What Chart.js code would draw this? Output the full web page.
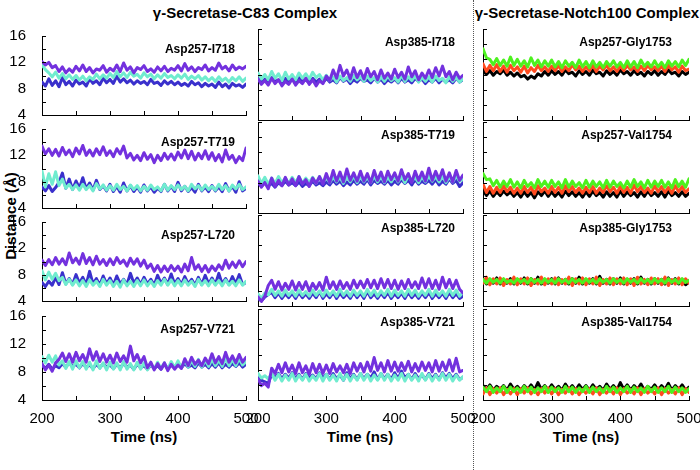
<!DOCTYPE html>
<html>
<head>
<meta charset="utf-8">
<script src="https://cdn.jsdelivr.net/npm/chart.js@4/dist/chart.umd.min.js"></script>
<style>
  body { margin: 0; background: #fff; width: 700px; height: 470px; position: relative; overflow: hidden;
         font-family: "Liberation Sans", Arial, sans-serif; }
  canvas { position: absolute; }
  .txt { position: absolute; font-weight: bold; white-space: nowrap; color: #000; font-size: 15px; line-height: 18px; }
  .divider { position: absolute; left: 473px; top: 0; height: 470px; border-left: 1px dotted #555; }
</style>
</head>
<body>
<div class="txt" style="left:245px;top:4px;transform:translateX(-50%)">γ-Secretase-C83 Complex</div>
<div class="txt" style="left:587px;top:4px;transform:translateX(-50%)">γ-Secretase-Notch100 Complex</div>
<div class="txt" style="left:11px;top:216px;transform:translate(-50%,-50%) rotate(-90deg)">Distance (Å)</div>
<div class="txt" style="left:144px;top:428px;transform:translateX(-50%)">Time (ns)</div>
<div class="txt" style="left:360px;top:428px;transform:translateX(-50%)">Time (ns)</div>
<div class="txt" style="left:586px;top:428px;transform:translateX(-50%)">Time (ns)</div>
<div class="divider"></div>

<script>
// sampling times (ns)
const timeNs = [
  200,205,210,215,220,225,230,235,240,245,
  250,255,260,265,270,275,280,285,290,295,
  300,305,310,315,320,325,330,335,340,345,
  350,355,360,365,370,375,380,385,390,395,
  400,405,410,415,420,425,430,435,440,445,
  450,455,460,465,470,475,480,485,490,495,
  500
];
const yTickValues = [4, 6, 8, 10, 12, 14, 16];
const xTickValues = [200, 250, 300, 350, 400, 450, 500];

// ---- γ-Secretase-C83: Asp257-I718
const a257_i718_purple = [
  12.1,11.6,12.0,11.2,11.5,10.6,11.3,10.4,11.0,10.5,
  11.4,10.7,11.6,10.6,11.2,10.4,11.0,10.8,11.5,10.5,
  11.1,10.7,11.6,10.6,11.9,10.8,11.3,10.4,11.2,10.9,
  11.5,10.6,11.0,10.5,11.3,10.7,11.4,10.6,11.1,10.8,
  11.5,10.7,11.8,10.8,11.3,10.6,11.2,10.9,11.6,10.7,
  11.2,10.8,11.9,11.0,11.4,10.7,11.6,10.9,11.3,11.0,
  11.4];
const a257_i718_blue = [
  9.0,8.4,9.5,8.5,9.2,8.3,9.7,8.6,9.1,8.4,
  9.3,8.7,9.0,8.4,9.5,8.8,9.2,8.6,9.6,8.9,
  9.4,8.8,9.9,9.0,9.5,8.9,9.3,8.7,9.2,8.8,
  9.1,8.6,9.4,8.8,9.0,8.5,9.2,8.7,9.1,8.6,
  9.0,8.5,8.8,8.4,9.1,8.6,8.9,8.3,8.8,8.4,
  8.7,8.2,9.0,8.3,8.7,8.1,8.8,8.4,8.6,8.2,
  8.7];
const a257_i718_cyan = [
  11.6,10.9,10.4,9.8,10.5,9.6,10.3,9.5,10.1,9.4,
  10.0,9.3,9.9,9.2,9.8,9.4,10.2,9.5,10.1,9.6,
  10.3,9.7,10.6,9.8,10.4,9.7,10.5,9.9,10.2,9.6,
  10.4,9.8,10.2,9.5,10.1,9.6,10.3,9.7,10.0,9.5,
  10.1,9.6,10.2,9.4,9.9,9.5,10.0,9.3,9.8,9.2,
  9.7,9.1,9.8,9.2,9.6,9.0,9.7,9.2,9.8,9.1,
  9.6];

// ---- Asp385-I718
const a385_i718_purple = [
  9.4,8.7,9.2,8.6,9.5,8.8,9.3,8.5,9.1,8.7,
  9.4,8.6,9.2,8.8,9.5,8.7,9.3,8.5,9.2,8.8,
  9.8,9.2,10.6,9.5,11.2,9.8,10.6,9.4,10.9,9.6,
  10.5,9.4,10.8,9.7,10.4,9.3,10.6,9.5,10.2,9.4,
  10.7,9.6,10.3,9.4,11.0,9.7,10.5,9.3,10.2,9.5,
  10.6,9.6,10.9,9.8,11.1,9.7,10.4,9.3,10.3,9.5,
  9.9];
const a385_i718_blue = [
  9.5,9.0,9.4,8.9,9.6,9.1,9.3,8.8,9.5,9.0,
  9.4,8.9,9.6,9.1,9.3,8.9,9.5,9.0,9.4,8.9,
  9.5,9.0,9.3,8.9,9.6,9.1,9.4,8.8,9.3,9.0,
  9.5,9.1,9.3,8.9,9.5,9.0,9.4,8.8,9.3,9.0,
  9.4,8.9,9.5,9.0,9.3,8.9,9.5,9.1,9.4,8.8,
  9.3,9.0,9.5,8.9,9.4,9.0,9.3,8.9,9.5,9.0,
  9.3];
const a385_i718_cyan = [
  10.2,9.4,10.0,9.3,10.4,9.5,10.1,9.2,10.3,9.4,
  10.0,9.3,10.2,9.5,10.1,9.4,10.3,9.6,10.0,9.3,
  9.9,9.2,9.7,9.0,9.8,9.2,9.6,9.1,9.9,9.3,
  9.7,9.1,9.8,9.2,9.6,9.0,9.7,9.1,9.8,9.2,
  9.6,9.0,9.9,9.1,9.7,9.2,9.8,9.0,9.6,9.1,
  9.7,9.0,9.8,9.2,9.5,8.9,9.7,9.1,9.6,9.0,
  9.4];

// ---- Asp257-T719
const a257_t719_purple = [
  13.4,12.2,13.0,12.0,12.9,11.9,13.2,12.1,12.8,11.8,
  13.1,12.2,13.5,12.0,12.8,11.9,13.0,12.1,13.3,12.0,
  12.7,11.8,13.0,12.2,13.4,11.6,12.3,11.3,12.0,11.2,
  12.4,11.4,12.1,10.9,12.0,11.2,12.3,11.4,12.2,11.3,
  12.5,11.6,12.8,11.5,12.6,11.3,12.3,11.5,12.7,11.4,
  12.4,11.2,12.1,11.0,12.8,11.4,12.0,10.9,11.8,11.2,
  13.1];
const a257_t719_blue = [
  7.2,6.6,7.4,6.5,7.1,7.9,9.3,7.0,8.4,6.8,
  8.1,7.0,8.6,6.9,7.8,6.7,8.2,6.8,7.4,6.6,
  7.6,6.5,7.3,6.4,7.8,6.6,7.4,6.5,7.2,6.4,
  7.5,6.6,7.2,6.4,7.0,6.5,7.6,6.6,7.3,6.5,
  7.9,6.6,7.3,6.5,7.1,6.4,7.6,6.6,7.2,6.5,
  7.4,6.6,7.2,6.5,7.7,6.6,7.3,6.4,8.0,6.6,
  7.0];
const a257_t719_cyan = [
  9.6,7.2,9.2,7.6,9.5,7.4,8.4,7.0,7.6,6.8,
  7.5,6.7,7.6,6.8,7.4,6.6,7.7,6.9,7.5,6.7,
  7.4,6.7,7.6,6.8,7.3,6.6,7.5,6.8,7.4,6.6,
  7.3,6.7,7.5,6.8,7.2,6.6,7.6,6.7,7.4,6.8,
  7.5,6.8,7.3,6.6,7.6,6.9,7.4,6.7,7.5,6.8,
  7.3,6.7,7.6,6.8,7.4,6.6,7.5,6.9,7.6,6.8,
  7.2];

// ---- Asp385-T719
const a385_t719_purple = [
  8.2,7.4,8.0,7.2,8.6,7.5,8.3,7.6,8.7,7.7,
  8.5,7.6,8.8,7.8,8.4,7.5,8.6,7.9,8.8,7.8,
  9.2,8.0,9.6,8.2,9.4,8.1,9.8,8.3,9.3,8.2,
  9.5,8.2,9.2,8.0,9.6,8.3,9.4,8.1,9.5,8.4,
  9.3,8.2,9.7,8.4,9.2,8.0,9.5,8.3,9.4,8.2,
  9.9,8.3,9.5,8.4,9.7,8.2,9.3,8.1,9.6,8.3,
  9.0];
const a385_t719_blue = [
  8.0,7.5,8.1,7.6,7.9,7.4,8.0,7.6,8.2,7.7,
  8.0,7.6,8.1,7.5,7.9,7.6,8.2,7.7,8.0,7.6,
  8.1,7.7,8.3,7.8,8.2,7.6,8.1,7.7,8.3,7.8,
  8.2,7.8,8.4,7.7,8.3,7.9,8.2,7.8,8.3,7.7,
  8.2,7.8,8.4,7.9,8.3,7.7,8.4,7.8,8.2,7.9,
  8.3,7.8,8.4,7.7,8.2,7.8,8.5,7.9,8.3,7.5,
  8.0];
const a385_t719_cyan = [
  8.9,7.9,8.7,7.8,8.6,7.9,8.8,8.0,8.6,7.9,
  8.7,8.0,8.8,7.9,8.6,8.0,8.7,7.9,8.8,8.0,
  8.7,8.0,8.8,8.1,8.7,7.9,8.8,8.1,8.9,8.0,
  8.8,8.1,8.7,8.0,8.9,8.1,8.8,8.0,8.7,8.1,
  8.9,8.1,8.8,8.0,8.9,8.2,8.7,8.0,8.8,8.1,
  8.9,8.2,8.8,8.1,8.9,8.0,8.8,8.1,8.9,8.2,
  8.5];

// ---- Asp257-L720
const a257_l720_purple = [
  10.2,9.4,10.3,9.5,10.6,9.6,10.4,9.5,11.3,9.8,
  10.5,9.6,11.2,9.7,10.6,9.5,10.8,9.6,10.3,9.4,
  10.4,9.5,10.6,9.7,10.2,9.3,10.5,9.6,10.4,9.3,
  10.2,9.0,9.6,8.5,9.4,8.4,9.3,8.5,9.4,8.6,
  9.3,8.4,9.6,8.6,10.6,8.8,9.5,8.5,9.4,8.4,
  9.3,8.6,9.5,8.8,10.2,9.0,9.9,9.1,10.1,9.2,
  10.0];
const a257_l720_blue = [
  6.8,6.2,7.0,6.4,7.6,6.5,8.3,6.6,7.4,6.5,
  8.0,6.7,7.6,6.5,8.5,6.6,7.4,6.4,7.8,6.6,
  7.5,6.4,7.8,6.6,7.3,6.5,8.2,6.7,7.5,6.5,
  7.6,6.6,7.3,6.4,7.9,6.7,7.5,6.5,8.1,6.6,
  7.4,6.5,7.7,6.6,7.3,6.4,7.6,6.5,7.9,6.6,
  7.5,6.5,8.2,6.6,7.4,6.5,7.7,6.6,8.0,6.5,
  6.8];
const a257_l720_cyan = [
  8.6,7.2,8.4,7.3,8.2,7.1,7.6,6.5,7.3,6.4,
  7.2,6.3,7.1,6.2,7.2,6.4,7.0,6.2,7.3,6.4,
  7.1,6.2,7.0,6.1,7.2,6.3,7.0,6.2,7.1,6.3,
  7.2,6.3,7.0,6.2,7.1,6.4,7.3,6.4,7.2,6.3,
  7.1,6.3,7.2,6.4,7.0,6.2,7.3,6.4,7.1,6.3,
  7.2,6.4,7.1,6.3,7.2,6.4,7.0,6.3,7.2,6.4,
  7.0];

// ---- Asp385-L720
const a385_l720_purple = [
  5.2,4.6,5.3,6.7,7.4,6.2,7.2,6.1,7.0,6.2,
  7.3,6.1,7.1,6.2,7.2,6.0,7.0,6.2,7.1,6.1,
  7.8,6.3,7.2,6.2,7.3,6.3,7.1,6.2,7.4,6.4,
  7.3,6.4,7.5,6.4,7.4,6.3,7.6,6.4,7.5,6.3,
  7.4,6.2,7.3,6.3,7.5,6.4,7.2,6.3,7.7,6.4,
  7.6,6.3,7.4,6.2,7.8,6.4,7.5,6.3,7.4,6.2,
  5.7];
const a385_l720_blue = [
  5.0,4.7,5.2,5.5,5.8,5.1,5.7,5.0,5.6,5.1,
  5.7,5.0,5.8,5.1,5.6,5.0,5.7,5.1,5.9,5.0,
  5.6,5.1,5.8,5.0,5.7,5.1,5.6,5.0,5.8,5.1,
  5.7,5.0,5.9,5.1,5.6,5.0,5.7,5.1,5.8,5.0,
  5.6,5.1,5.7,5.0,5.8,5.1,5.6,5.0,5.7,5.1,
  5.8,5.0,5.6,5.1,5.7,5.0,5.8,5.1,5.6,5.0,
  5.3];
const a385_l720_cyan = [
  5.6,5.0,5.7,5.5,6.2,5.4,6.0,5.3,6.1,5.4,
  6.0,5.3,6.1,5.4,5.9,5.3,6.1,5.4,6.0,5.3,
  6.1,5.4,6.0,5.3,6.2,5.4,6.0,5.3,6.1,5.4,
  6.0,5.3,6.2,5.4,6.1,5.3,6.0,5.4,6.2,5.3,
  6.1,5.4,6.0,5.3,6.2,5.4,6.1,5.3,6.0,5.4,
  6.2,5.3,6.1,5.4,6.0,5.3,6.2,5.4,6.1,5.3,
  5.8];

// ---- Asp257-V721
const a257_v721_purple = [
  9.2,8.3,9.0,8.1,9.3,9.8,10.7,9.5,10.6,9.4,
  10.8,9.6,10.5,9.4,11.3,9.7,10.9,9.5,10.6,9.4,
  10.4,9.3,10.7,9.5,10.3,9.4,11.7,9.6,10.5,9.3,
  10.2,8.6,9.4,8.3,9.2,8.4,9.3,8.2,9.1,8.4,
  9.0,8.5,9.9,8.9,10.1,9.1,9.7,8.9,10.0,9.2,
  10.6,9.3,10.2,9.2,10.8,9.4,10.3,9.3,10.5,9.4,
  10.1];
const a257_v721_blue = [
  9.0,8.5,9.1,8.4,8.9,8.6,9.2,8.7,9.3,8.8,
  9.1,8.6,9.2,8.7,9.0,8.5,9.1,8.6,9.2,8.7,
  9.0,8.5,9.1,8.6,9.2,8.7,9.0,8.4,9.1,8.6,
  8.9,8.4,9.0,8.5,8.9,8.4,9.1,8.5,9.0,8.6,
  9.1,8.6,9.2,8.7,9.0,8.6,9.3,8.7,9.1,8.6,
  9.2,8.7,9.3,8.6,9.1,8.7,9.2,8.8,9.3,8.7,
  9.1];
const a257_v721_cyan = [
  10.2,9.3,10.4,9.4,10.3,9.0,9.6,8.5,9.5,8.4,
  9.6,8.6,9.5,8.4,9.4,8.3,9.6,8.5,9.3,8.3,
  9.4,8.4,9.3,8.3,9.5,8.4,9.2,8.3,9.4,8.4,
  9.3,8.3,9.2,8.4,9.4,8.5,9.3,8.4,9.5,8.6,
  9.6,8.6,9.7,8.7,9.6,8.8,9.8,8.7,9.7,8.8,
  9.8,8.9,9.7,8.8,9.9,8.9,9.8,8.9,9.9,9.0,
  9.5];

// ---- Asp385-V721
const a385_v721_purple = [
  6.8,5.9,6.2,5.7,8.2,7.5,8.7,7.6,8.9,7.7,
  8.6,7.5,8.9,7.6,8.5,7.4,8.8,7.6,8.7,7.5,
  8.6,7.5,8.8,7.7,8.5,7.6,8.7,7.5,8.9,7.8,
  8.8,7.7,9.0,7.8,9.6,7.9,8.9,7.7,9.2,7.8,
  9.0,7.8,8.9,7.9,9.1,7.7,8.8,7.8,9.0,7.9,
  8.9,7.7,9.2,7.8,9.0,7.9,9.3,7.8,9.5,7.7,
  7.9];
const a385_v721_blue = [
  7.3,6.6,6.4,6.2,7.4,6.9,7.5,6.8,7.4,6.9,
  7.6,6.8,7.4,6.7,7.5,6.9,7.3,6.8,7.6,6.9,
  7.4,6.7,7.5,6.8,7.3,6.6,7.6,6.8,7.4,6.7,
  7.5,6.8,7.4,6.9,7.7,6.7,7.5,6.8,7.4,6.7,
  7.6,6.8,7.8,6.9,7.4,6.7,7.5,6.8,7.3,6.7,
  7.5,6.8,7.4,6.7,7.6,6.9,7.5,6.8,7.4,6.7,
  7.0];
const a385_v721_cyan = [
  7.5,6.9,7.2,6.8,7.5,6.6,7.4,6.5,7.3,6.6,
  7.5,6.5,7.3,6.6,7.4,6.5,7.2,6.6,7.5,6.5,
  7.4,6.6,7.3,6.5,7.5,6.6,7.4,6.5,7.3,6.6,
  7.5,6.6,7.4,6.5,7.3,6.6,7.5,6.6,7.4,6.5,
  7.3,6.6,7.5,6.5,7.4,6.6,7.3,6.5,7.5,6.6,
  7.4,6.5,7.3,6.6,7.5,6.6,7.4,6.5,7.3,6.6,
  7.1];

// ---- γ-Secretase-Notch100: Asp257-Gly1753
const a257_g1753_black = [
  10.6,10.0,10.5,9.9,10.4,10.1,10.6,9.9,10.3,9.8,
  10.2,9.7,9.9,9.4,9.8,9.5,10.1,9.8,10.4,9.9,
  10.5,10.0,10.4,9.9,10.6,10.1,10.3,9.8,10.5,10.0,
  10.4,9.9,10.6,10.1,10.3,9.8,10.5,10.0,10.4,9.9,
  10.6,10.1,10.4,9.9,10.5,10.0,10.3,9.8,10.4,10.0,
  10.5,9.9,10.4,10.0,10.6,10.1,10.3,9.8,10.4,10.0,
  10.3];
const a257_g1753_red = [
  11.4,10.4,11.2,10.5,11.3,10.4,11.1,10.3,11.2,10.5,
  11.0,10.3,11.1,10.2,10.9,10.4,11.2,10.5,11.0,10.4,
  11.1,10.5,11.2,10.4,11.0,10.5,11.3,10.6,11.1,10.4,
  11.0,10.5,11.2,10.4,11.1,10.6,11.2,10.5,11.0,10.4,
  11.1,10.5,11.2,10.6,11.0,10.4,11.1,10.5,11.2,10.6,
  11.0,10.5,11.1,10.4,11.2,10.6,11.0,10.3,11.1,10.5,
  10.7];
const a257_g1753_green = [
  13.4,12.2,12.0,11.3,12.1,11.2,11.9,11.1,12.3,11.2,
  12.0,11.1,11.8,11.0,12.2,11.2,11.9,11.0,11.8,11.1,
  11.9,11.0,11.7,10.9,11.8,11.1,11.6,10.9,11.9,11.0,
  11.7,10.9,11.8,11.0,11.6,10.9,11.7,11.1,11.8,11.0,
  11.6,10.9,11.8,11.0,11.7,10.9,11.9,11.1,11.6,11.0,
  11.8,11.0,11.6,10.9,11.8,11.1,11.7,11.0,11.9,11.2,
  12.0];

// ---- Asp257-Val1754
const a257_v1754_black = [
  7.0,6.3,6.9,6.2,6.8,6.3,6.9,6.4,6.8,6.2,
  6.7,6.1,6.8,6.2,6.7,6.0,6.8,6.3,6.9,6.2,
  6.8,6.2,6.7,6.1,6.9,6.3,6.8,6.2,6.7,6.1,
  6.8,6.2,6.9,6.3,6.7,6.1,6.8,6.2,6.7,6.1,
  6.9,6.2,6.8,6.3,6.7,6.1,6.8,6.2,6.9,6.3,
  6.7,6.2,6.8,6.1,6.9,6.3,6.7,6.2,6.8,6.2,
  6.6];
const a257_v1754_red = [
  7.8,6.7,7.5,6.6,7.4,6.7,7.6,6.8,7.4,6.6,
  7.3,6.6,7.5,6.7,7.4,6.5,7.6,6.8,7.3,6.6,
  7.5,6.7,7.4,6.6,7.6,6.8,7.5,6.7,7.3,6.6,
  7.4,6.7,7.5,6.6,7.3,6.7,7.6,6.8,7.4,6.6,
  7.5,6.7,7.4,6.6,7.7,6.8,7.5,6.7,7.3,6.6,
  7.6,6.8,7.5,6.7,7.4,6.6,7.6,6.8,7.5,6.7,
  7.2];
const a257_v1754_green = [
  9.2,8.4,8.5,7.6,8.3,7.4,8.2,7.5,8.4,7.4,
  8.1,7.3,8.3,7.5,8.0,7.3,8.4,7.5,8.2,7.4,
  8.3,7.5,8.1,7.3,8.4,7.4,8.2,7.5,8.0,7.3,
  8.3,7.4,8.2,7.5,8.1,7.3,8.3,7.4,8.2,7.5,
  8.0,7.3,8.2,7.4,8.4,7.5,8.1,7.3,8.3,7.4,
  8.2,7.5,8.3,7.4,8.1,7.3,8.4,7.5,8.2,7.4,
  8.5];

// ---- Asp385-Gly1753
const a385_g1753_black = [
  7.6,6.9,7.5,7.0,7.7,6.9,7.5,7.0,7.6,6.9,
  7.5,7.0,7.7,6.9,7.6,7.0,7.8,6.9,7.5,7.0,
  7.6,6.9,7.7,7.0,7.5,6.9,7.6,7.0,7.8,6.9,
  7.5,7.0,7.6,6.9,7.9,7.0,7.5,6.9,7.6,7.0,
  7.7,6.9,7.5,7.0,7.6,6.9,7.8,7.0,7.5,6.9,
  7.6,7.0,7.5,6.9,7.7,7.0,7.6,6.9,7.5,6.8,
  7.2];
const a385_g1753_red = [
  7.0,7.8,6.8,7.6,6.9,7.7,6.7,7.5,6.9,7.8,
  6.8,7.6,6.9,7.7,6.7,7.5,6.9,7.8,6.8,7.6,
  6.9,7.7,6.8,7.5,6.9,7.8,6.7,7.6,6.9,7.7,
  6.8,7.6,6.9,7.8,6.7,7.5,6.9,7.7,6.8,7.6,
  6.9,7.7,6.8,7.6,6.7,7.8,6.9,7.5,6.8,7.7,
  6.9,7.6,6.8,7.8,6.7,7.5,6.9,7.7,6.8,7.6,
  7.0];
const a385_g1753_green = [
  7.5,7.0,7.6,7.1,7.5,7.0,7.6,7.1,7.4,7.0,
  7.6,7.1,7.5,7.0,7.6,7.1,7.5,7.0,7.6,7.1,
  7.5,7.0,7.6,7.1,7.5,7.0,7.6,7.1,7.5,7.0,
  7.6,7.1,7.5,7.0,7.6,7.1,7.5,7.0,7.6,7.1,
  7.5,7.0,7.6,7.1,7.5,7.0,7.6,7.1,7.5,7.0,
  7.6,7.1,7.5,7.0,7.6,7.1,7.5,7.0,7.6,7.1,
  7.4];

// ---- Asp385-Val1754
const a385_v1754_black = [
  5.9,5.4,6.0,5.3,5.8,5.4,5.9,5.3,6.1,5.4,
  5.8,5.3,5.9,5.4,6.0,5.3,6.3,5.4,5.9,5.3,
  6.0,5.4,5.8,5.3,6.1,5.4,5.9,5.3,6.0,5.4,
  5.9,5.3,6.0,5.4,5.8,5.3,6.1,5.4,5.9,5.3,
  6.3,5.4,6.0,5.3,5.9,5.4,6.1,5.3,5.8,5.4,
  6.0,5.3,5.9,5.4,6.2,5.3,5.9,5.4,6.0,5.3,
  5.7];
const a385_v1754_red = [
  4.8,5.6,4.7,5.5,4.9,5.6,4.7,5.4,4.8,5.5,
  4.7,5.5,4.9,5.6,4.8,5.4,4.7,5.5,4.9,5.6,
  4.8,5.5,4.7,5.4,4.9,5.6,4.8,5.5,4.7,5.4,
  4.9,5.5,4.8,5.6,4.7,5.4,4.9,5.5,4.8,5.6,
  4.7,5.5,4.9,5.4,4.8,5.6,4.7,5.5,4.9,5.4,
  4.8,5.6,4.7,5.5,4.9,5.4,4.8,5.6,4.7,5.5,
  5.0];
const a385_v1754_green = [
  5.7,5.1,5.8,5.0,5.6,5.1,5.8,5.0,5.7,5.1,
  5.6,5.0,5.8,5.1,5.7,5.0,5.6,5.1,5.8,5.0,
  5.7,5.1,5.6,5.0,5.8,5.1,5.7,5.0,5.6,5.1,
  5.8,5.0,5.7,5.1,5.6,5.0,5.8,5.1,5.7,5.0,
  5.6,5.1,5.8,5.0,5.7,5.1,5.6,5.0,5.8,5.1,
  5.7,5.0,5.6,5.1,5.8,5.0,5.7,5.1,5.6,5.0,
  5.5];

// panel grid (pixels)
const colLeft = [42, 258, 483];
const colRight = [246, 463, 689];
const rowTop = [29, 122, 215, 309];
const rowBottom = [120, 213, 306, 400];
const labelInset = [11, 8, 17];

const PURPLE = '#7331de', BLUE = '#3a30cc', CYAN = '#70eccf';
const BLACK = '#000000', RED = '#ff4b1f', GREEN = '#4df11f';

// first series in each list is drawn on top
const panels = [
  { col: 0, row: 0, label: 'Asp257-I718', series: [[a257_i718_purple, PURPLE], [a257_i718_cyan, CYAN], [a257_i718_blue, BLUE]] },
  { col: 1, row: 0, label: 'Asp385-I718', series: [[a385_i718_purple, PURPLE], [a385_i718_cyan, CYAN], [a385_i718_blue, BLUE]] },
  { col: 2, row: 0, label: 'Asp257-Gly1753', series: [[a257_g1753_green, GREEN], [a257_g1753_red, RED], [a257_g1753_black, BLACK]] },
  { col: 0, row: 1, label: 'Asp257-T719', series: [[a257_t719_purple, PURPLE], [a257_t719_cyan, CYAN], [a257_t719_blue, BLUE]] },
  { col: 1, row: 1, label: 'Asp385-T719', series: [[a385_t719_purple, PURPLE], [a385_t719_cyan, CYAN], [a385_t719_blue, BLUE]] },
  { col: 2, row: 1, label: 'Asp257-Val1754', series: [[a257_v1754_green, GREEN], [a257_v1754_red, RED], [a257_v1754_black, BLACK]] },
  { col: 0, row: 2, label: 'Asp257-L720', series: [[a257_l720_purple, PURPLE], [a257_l720_cyan, CYAN], [a257_l720_blue, BLUE]] },
  { col: 1, row: 2, label: 'Asp385-L720', series: [[a385_l720_purple, PURPLE], [a385_l720_cyan, CYAN], [a385_l720_blue, BLUE]] },
  { col: 2, row: 2, label: 'Asp385-Gly1753', series: [[a385_g1753_green, GREEN], [a385_g1753_red, RED], [a385_g1753_black, BLACK]] },
  { col: 0, row: 3, label: 'Asp257-V721', series: [[a257_v721_purple, PURPLE], [a257_v721_cyan, CYAN], [a257_v721_blue, BLUE]] },
  { col: 1, row: 3, label: 'Asp385-V721', series: [[a385_v721_purple, PURPLE], [a385_v721_cyan, CYAN], [a385_v721_blue, BLUE]] },
  { col: 2, row: 3, label: 'Asp385-Val1754', series: [[a385_v1754_green, GREEN], [a385_v1754_red, RED], [a385_v1754_black, BLACK]] }
];

const FONT = '"Liberation Sans", Arial, sans-serif';

// inward tick marks + panel caption
const panelDecor = {
  id: 'panelDecor',
  afterDatasetsDraw(chart, args, opts) {
    const { ctx, chartArea, scales } = chart;
    ctx.save();
    ctx.strokeStyle = '#000';
    ctx.lineWidth = 1;
    ctx.beginPath();
    yTickValues.forEach(v => {
      const y = Math.round(scales.y.getPixelForValue(v)) + 0.5;
      ctx.moveTo(chartArea.left, y);
      ctx.lineTo(chartArea.left + 4, y);
    });
    xTickValues.forEach(v => {
      const x = Math.round(scales.x.getPixelForValue(v)) + 0.5;
      ctx.moveTo(x, chartArea.bottom);
      ctx.lineTo(x, chartArea.bottom - 4);
    });
    ctx.stroke();
    ctx.font = 'bold 12px ' + FONT;
    ctx.fillStyle = '#000';
    ctx.textAlign = 'right';
    ctx.textBaseline = 'middle';
    ctx.fillText(opts.label, chartArea.right - opts.inset, chartArea.top + 14);
    ctx.restore();
  }
};

const PAD_L = 42, PAD_R = 20, PAD_T = 10;

panels.forEach(p => {
  const last = p.row === 3;
  const axisH = last ? 26 : 2;
  const padB = last ? 0 : 10;
  const w = colRight[p.col] - colLeft[p.col];
  const h = rowBottom[p.row] - rowTop[p.row];
  const canvas = document.createElement('canvas');
  canvas.width = w + PAD_L + PAD_R;
  canvas.height = h + PAD_T + axisH + padB;
  canvas.style.left = (colLeft[p.col] - PAD_L) + 'px';
  canvas.style.top = (rowTop[p.row] - PAD_T) + 'px';
  document.body.appendChild(canvas);

  new Chart(canvas, {
    type: 'line',
    data: {
      datasets: p.series.map(([vals, color]) => ({
        data: timeNs.map((t, i) => ({ x: t, y: vals[i] })),
        borderColor: color,
        borderWidth: 3,
        borderJoinStyle: 'round',
        borderCapStyle: 'round',
        pointRadius: 0,
        tension: 0,
        fill: false
      }))
    },
    options: {
      responsive: false,
      animation: false,
      devicePixelRatio: 1,
      events: [],
      layout: { padding: { left: 0, right: PAD_R, top: PAD_T, bottom: padB } },
      plugins: {
        legend: { display: false },
        tooltip: { enabled: false },
        panelDecor: { label: p.label, inset: labelInset[p.col] }
      },
      scales: {
        x: {
          type: 'linear', min: 200, max: 500,
          grid: { display: false },
          border: { display: true, color: '#000', width: 1 },
          ticks: { display: last, stepSize: 100, autoSkip: false, maxRotation: 0, padding: 2,
                   color: '#000', font: { family: FONT, size: 15 } },
          afterFit(scale) { scale.height = axisH; }
        },
        y: {
          min: 4, max: 16,
          grid: { display: false },
          border: { display: true, color: '#000', width: 1 },
          ticks: { display: p.col === 0, stepSize: 4, autoSkip: false, padding: 8,
                   color: '#000', font: { family: FONT, size: 15 } },
          afterFit(scale) { scale.width = PAD_L; }
        }
      }
    },
    plugins: [panelDecor]
  });
});
</script>
</body>
</html>
